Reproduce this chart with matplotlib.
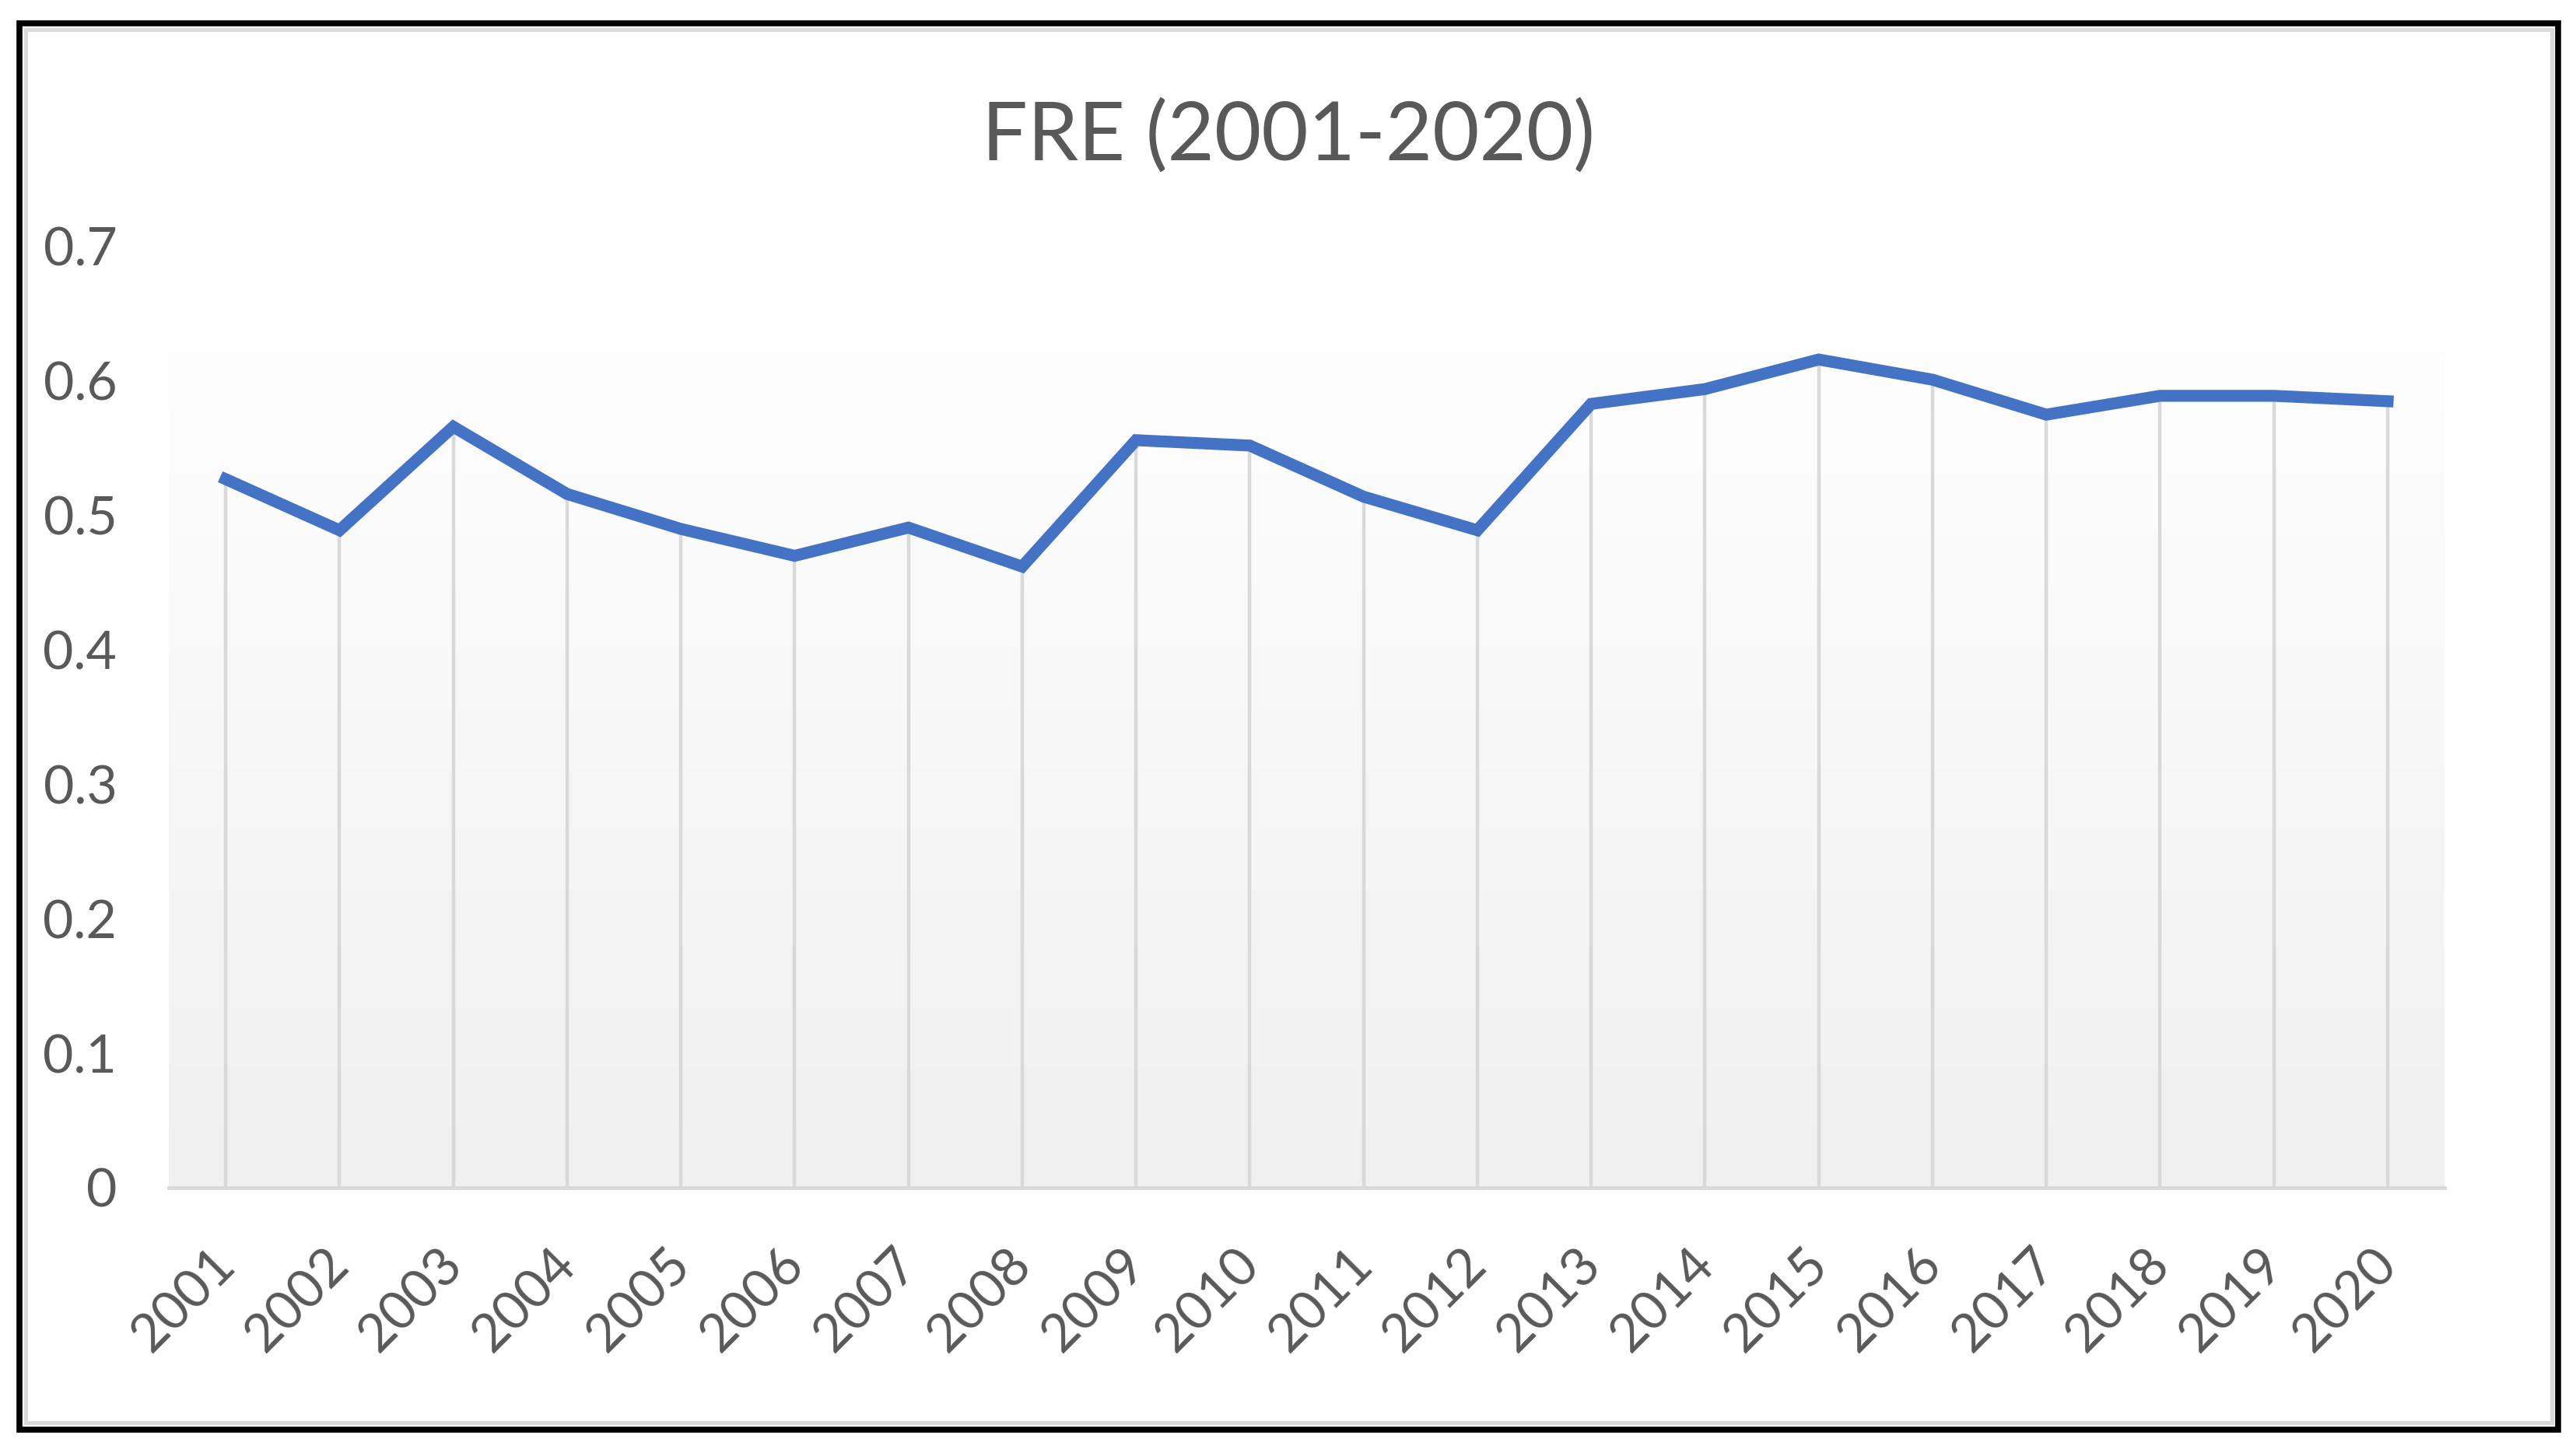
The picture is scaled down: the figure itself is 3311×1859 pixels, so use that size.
#!/usr/bin/env python3
"""FRE (2001-2020) line chart with drop lines, Excel style."""

import numpy as np
import matplotlib.pyplot as plt
import matplotlib.transforms as mtransforms
from matplotlib.patches import Rectangle

years = [str(y) for y in range(2001, 2021)]
fre = [0.527, 0.489, 0.566, 0.516, 0.490, 0.470, 0.491, 0.462, 0.556, 0.552,
       0.514, 0.489, 0.583, 0.594, 0.616, 0.601, 0.575, 0.589, 0.589, 0.585]
y_ticks = [0, 0.1, 0.2, 0.3, 0.4, 0.5, 0.6, 0.7]
y_labels = ['0', '0.1', '0.2', '0.3', '0.4', '0.5', '0.6', '0.7']

TEXT = '#595959'
GRID = '#d9d9d9'
BLUE = '#4472C4'
plt.rcParams['font.family'] = ['Lato', 'DejaVu Sans']

W, H = 3311, 1859
fig = plt.figure(figsize=(W / 100, H / 100), dpi=100)

# outer frame: black border with light gray inner border
fig.patches.append(Rectangle((25 / W, 1 - 1838 / H), (3288 - 25) / W, (1838 - 30) / H,
                             transform=fig.transFigure, fill=False, ec='black', lw=5.5))
fig.patches.append(Rectangle((33 / W, 1 - 1829 / H), (3280 - 33) / W, (1829 - 38) / H,
                             transform=fig.transFigure, fill=False, ec=GRID, lw=3.5))

ax = fig.add_axes([217 / W, 1 - 1527 / H, (3142 - 217) / W, (1527 - 317) / H])
x = np.arange(len(years))
ax.set_xlim(-0.5, len(years) - 0.5)
ax.set_ylim(0, 0.7)

# soft vertical gradient behind the data
grad = np.linspace(0, 1, 256).reshape(-1, 1)
top_c = np.array([254, 254, 254]) / 255
bot_c = np.array([240, 240, 240]) / 255
img = top_c * (1 - grad[..., None]) + bot_c * grad[..., None]
img = img.reshape(256, 1, 3)
ax.imshow(img, extent=[-0.5, len(years) - 0.5, 0, 0.623], aspect='auto', zorder=0,
          interpolation='bilinear')

ax.vlines(x, 0, fre, color=GRID, lw=3.2, zorder=1)
ax.plot(x, fre, color=BLUE, lw=11, solid_joinstyle='miter', zorder=3)

for s in ['top', 'right', 'left']:
    ax.spines[s].set_visible(False)
ax.spines['bottom'].set_color(GRID)
ax.spines['bottom'].set_linewidth(3.5)
ax.spines['bottom'].set_zorder(2)

ax.set_yticks(y_ticks)
ax.set_yticklabels(y_labels)
ax.set_xticks(x)
ax.set_xticklabels(years, rotation=45, ha='right', rotation_mode='anchor')
ax.tick_params(axis='y', length=0, pad=48, labelsize=49, labelcolor=TEXT)
ax.tick_params(axis='x', length=0, pad=48, labelsize=49, labelcolor=TEXT)
shift = mtransforms.ScaledTranslation(-0.2, 0, fig.dpi_scale_trans)
for lab in ax.get_xticklabels():
    lab.set_transform(lab.get_transform() + shift)

fig.text(0.5, 1 - 175 / H, 'FRE (2001-2020)', ha='center', va='center',
         fontsize=75, color=TEXT)

fig.savefig('out.png', dpi=100, facecolor='white')
